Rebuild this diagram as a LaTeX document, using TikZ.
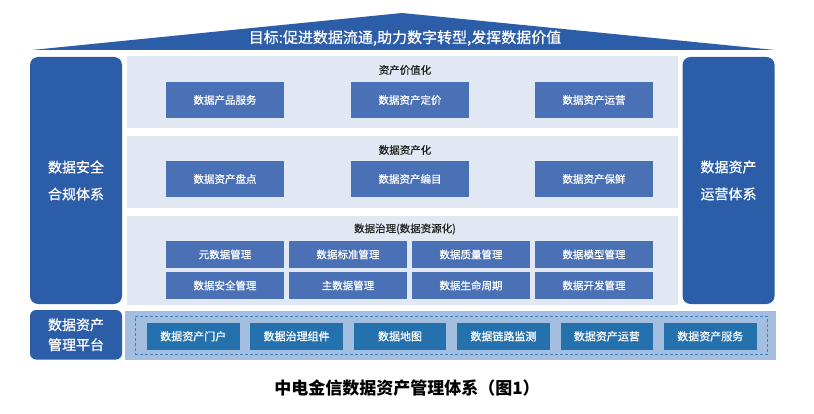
\documentclass[tikz,border=0pt]{standalone}
\usepackage{fontspec}
\setmainfont{Noto Sans CJK SC}
\newfontfamily\medf[FakeBold=0.6]{Noto Sans CJK SC}
\definecolor{dblue}{HTML}{2C5DA9}
\definecolor{panelc}{HTML}{E1E8F3}
\definecolor{innerc}{HTML}{4A70B5}
\definecolor{platc}{HTML}{A4BEE0}
\definecolor{botc}{HTML}{2471AE}
\definecolor{dashc}{HTML}{3C82C4}
\definecolor{titlec}{HTML}{222222}
\begin{document}
\begin{tikzpicture}[x=1pt,y=-1pt,
  sidebox/.style={fill=dblue, rounded corners=8pt, text=white, align=center, inner sep=0pt,
    font=\medf\fontsize{14}{27}\selectfont},
  panel/.style={fill=panelc, inner sep=0pt},
  ptitle/.style={text=titlec, inner sep=0pt, font=\medf\fontsize{10.5}{12}\selectfont},
  inbox/.style={fill=innerc, text=white, inner sep=0pt, minimum width=118pt, font=\medf\fontsize{10.5}{12}\selectfont},
  botbox/.style={fill=botc, text=white, inner sep=0pt, minimum width=92.5pt, minimum height=27.3pt, font=\medf\fontsize{11}{12}\selectfont}
]
\useasboundingbox (0,0) rectangle (814,414);

% roof
\fill[dblue] (32,50) -- (402,13) -- (775,50) -- cycle;
\node[text=white, inner sep=0pt, font=\medf\fontsize{15}{16}\selectfont] (goal) at (405,38) {目标:促进数据流通,助力数字转型,发挥数据价值};

% side boxes
\node[sidebox, minimum width=92pt, minimum height=247pt] (left) at (76,180.5) {数据安全\\合规体系};
\node[sidebox, minimum width=92pt, minimum height=247pt] (right) at (728.5,180.5) {数据资产\\运营体系};

% panels
\node[panel, minimum width=551pt, minimum height=72pt] (p1) at (402.5,92) {};
\node[panel, minimum width=551pt, minimum height=72pt] (p2) at (402.5,172) {};
\node[panel, minimum width=551pt, minimum height=88.5pt] (p3) at (402.5,260.75) {};

\node[ptitle] (t1) at (405,70) {资产价值化};
\node[ptitle] (t2) at (405,150) {数据资产化};
\node[ptitle] (t3) at (405,229) {数据治理(数据资源化)};

\node[inbox, minimum height=35.5pt] (a1) at (225,100) {数据产品服务};
\node[inbox, minimum height=35.5pt] (a2) at (410,100) {数据资产定价};
\node[inbox, minimum height=35.5pt] (a3) at (594,100) {数据资产运营};

\node[inbox, minimum height=35.5pt] (b1) at (225,179) {数据资产盘点};
\node[inbox, minimum height=35.5pt] (b2) at (410,179) {数据资产编目};
\node[inbox, minimum height=35.5pt] (b3) at (594,179) {数据资产保鲜};

\node[inbox, minimum height=26.5pt] (c1) at (225,254.5) {元数据管理};
\node[inbox, minimum height=26.5pt] (c2) at (348,254.5) {数据标准管理};
\node[inbox, minimum height=26.5pt] (c3) at (471,254.5) {数据质量管理};
\node[inbox, minimum height=26.5pt] (c4) at (594,254.5) {数据模型管理};
\node[inbox, minimum height=26.5pt] (d1) at (225,285.5) {数据安全管理};
\node[inbox, minimum height=26.5pt] (d2) at (348,285.5) {主数据管理};
\node[inbox, minimum height=26.5pt] (d3) at (471,285.5) {数据生命周期};
\node[inbox, minimum height=26.5pt] (d4) at (594,285.5) {数据开发管理};

% platform
\node[sidebox, rounded corners=6pt, minimum width=92pt, minimum height=49.5pt, font=\medf\fontsize{14}{20}\selectfont] (plat) at (76,334.75) {数据资产\\管理平台};
\node[fill=platc, inner sep=0pt, minimum width=651pt, minimum height=49.5pt] (platbg) at (450.5,335.25) {};
\node[draw=dashc, line width=0.9pt, dash pattern=on 3pt off 2pt, inner sep=0pt, minimum width=632pt, minimum height=38.5pt] (platdash) at (451,335.25) {};

\node[botbox] (e1) at (193.25,336.3) {数据资产门户};
\node[botbox] (e2) at (296.65,336.3) {数据治理组件};
\node[botbox] (e3) at (400.05,336.3) {数据地图};
\node[botbox] (e4) at (503.45,336.3) {数据链路监测};
\node[botbox] (e5) at (606.85,336.3) {数据资产运营};
\node[botbox] (e6) at (710.25,336.3) {数据资产服务};

% caption
\node[inner sep=0pt, font=\fontsize{17}{18}\selectfont\bfseries] (cap) at (407,388) {中电金信数据资产管理体系（图1）};
\end{tikzpicture}
\end{document}
